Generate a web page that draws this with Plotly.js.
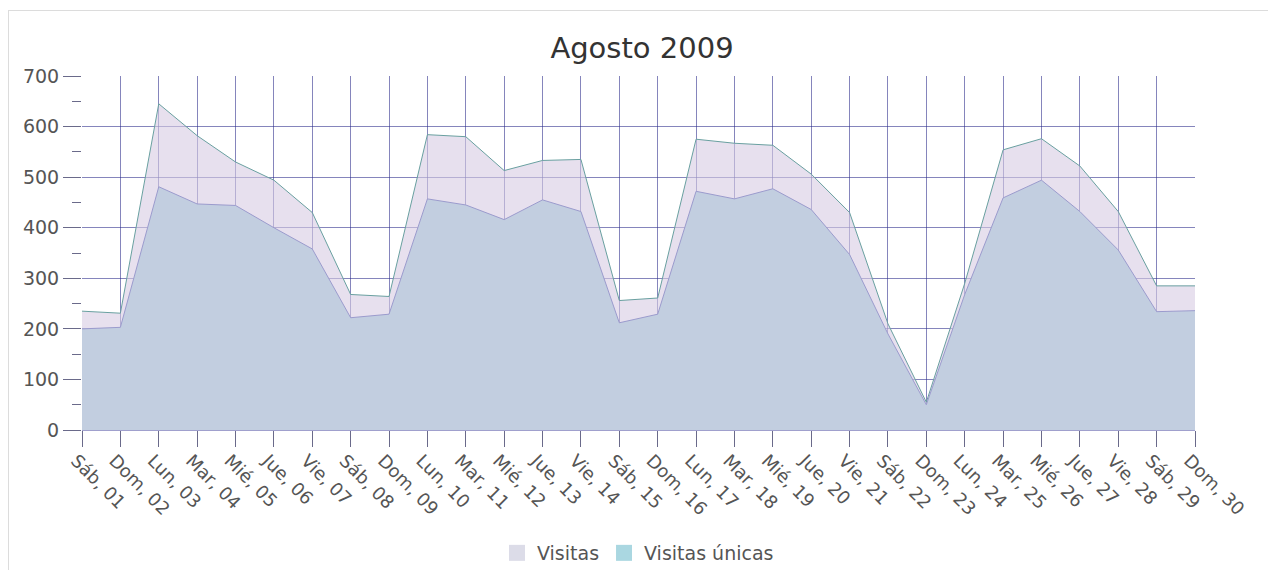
<!DOCTYPE html>
<html>
<head>
<meta charset="utf-8">
<script src="https://cdn.plot.ly/plotly-3.0.1.min.js"></script>
<style>
  html, body { margin: 0; padding: 0; background: #fff; }
  #chart { position: absolute; left: 0; top: 0; width: 1268px; height: 570px; }
  #frame { position: absolute; left: 8px; top: 10px; width: 1300px; height: 600px;
           border: 1px solid #dcdcdc; pointer-events: none; }
</style>
</head>
<body>
<div id="chart"></div>
<div id="frame"></div>
<script>
const dias = ['Sáb, 01','Dom, 02','Lun, 03','Mar, 04','Mié, 05','Jue, 06','Vie, 07','Sáb, 08','Dom, 09','Lun, 10',
              'Mar, 11','Mié, 12','Jue, 13','Vie, 14','Sáb, 15','Dom, 16','Lun, 17','Mar, 18','Mié, 19','Jue, 20',
              'Vie, 21','Sáb, 22','Dom, 23','Lun, 24','Mar, 25','Mié, 26','Jue, 27','Vie, 28','Sáb, 29','Dom, 30'];
const visitas = [235,231,645,582,530,494,430,268,264,584,580,513,533,535,256,261,575,567,563,506,430,210,55,290,554,576,522,432,285,285];
const visitasUnicas = [200,203,481,447,444,400,358,222,229,457,445,416,455,432,212,229,472,457,477,436,347,190,50,268,459,494,432,356,234,236];
const yTicks = [0,100,200,300,400,500,600,700];

const font = 'DejaVu Sans, Verdana, sans-serif';
const gridCol = 'rgba(45,45,140,0.58)';

const traces = [
  { x: dias, y: visitas, type: 'scatter', mode: 'lines', fill: 'tozeroy',
    fillcolor: 'rgba(215,203,226,0.6)', line: { color: 'rgb(105,160,160)', width: 1 },
    name: 'Visitas', showlegend: false, hoverinfo: 'x+y' },
  { x: dias, y: visitasUnicas, type: 'scatter', mode: 'lines', fill: 'tozeroy',
    fillcolor: 'rgb(194,206,224)', line: { color: 'rgb(155,155,205)', width: 1 },
    name: 'Visitas únicas', showlegend: false, hoverinfo: 'x+y' },
  { x: [null], y: [null], type: 'scatter', mode: 'markers', name: 'Visitas',
    marker: { symbol: 'square', size: 21, color: 'rgb(220,220,232)' } },
  { x: [null], y: [null], type: 'scatter', mode: 'markers', name: 'Visitas únicas',
    marker: { symbol: 'square', size: 21, color: 'rgb(170,215,225)' } }
];

const layout = {
  width: 1268, height: 570,
  margin: { l: 82, r: 73, t: 76, b: 140, autoexpand: false },
  paper_bgcolor: 'rgba(0,0,0,0)', plot_bgcolor: '#fff',
  title: { text: 'Agosto 2009', font: { family: font, size: 29, color: '#333' },
           x: 642 / 1268, xanchor: 'center', y: 1 - 48/570, yanchor: 'middle' },
  xaxis: {
    type: 'category', range: [0, dias.length - 1], automargin: false,
    showgrid: true, gridcolor: gridCol, gridwidth: 1,
    ticks: 'outside', ticklen: 16, tickcolor: '#6a6a8a', tickwidth: 1,
    tickangle: 45, tickfont: { family: font, size: 18, color: '#555' },
    ticklabelshift: -6, ticklabelstandoff: -4,
    showline: true, linecolor: 'rgb(160,160,205)', linewidth: 1,
    zeroline: false, fixedrange: true
  },
  yaxis: {
    range: [0, 700], tickvals: yTicks, ticktext: yTicks.map(String), automargin: false,
    showgrid: true, gridcolor: gridCol, gridwidth: 1,
    ticks: 'outside', ticklen: 18, tickcolor: '#6a6a8a', tickwidth: 1,
    tickfont: { family: font, size: 19, color: '#555' },
    minor: { dtick: 50, ticks: 'outside', ticklen: 9, tickcolor: '#6a6a8a', showgrid: false },
    showline: false, zeroline: false, fixedrange: true
  },
  showlegend: true,
  legend: { orientation: 'h', xref: 'container', x: 638 / 1268, xanchor: 'center',
            yref: 'container', y: 1 - 553 / 570, yanchor: 'middle',
            font: { family: font, size: 19, color: '#555' }, itemclick: false, itemdoubleclick: false }
};

Plotly.newPlot('chart', traces, layout, { displayModeBar: false, staticPlot: true });
</script>
</body>
</html>
